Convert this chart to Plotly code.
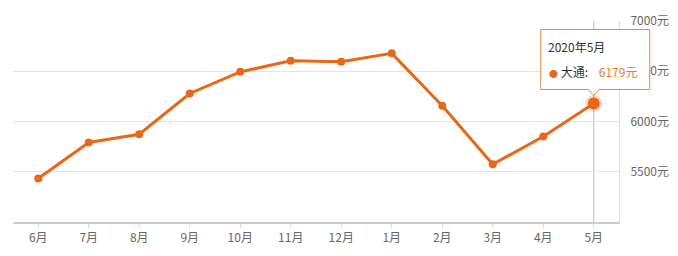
import plotly.graph_objects as go

months = ["6月", "7月", "8月", "9月", "10月", "11月", "12月", "1月", "2月", "3月", "4月", "5月"]
prices = [5432, 5791, 5873, 6279, 6494, 6604, 6594, 6678, 6156, 5574, 5850, 6179]
y_ticks = [5500, 6000, 6500, 7000]
y_range = [5000, 7000]
series_name = "大通"
tip_title = "2020年5月"

ORANGE = "#E8681A"
FONT = "Noto Sans CJK SC, Noto Sans, sans-serif"
idx = list(range(len(months)))
last = idx[-1]
x_range = [-0.5, len(months) - 0.5]

# anchor of the tooltip in paper fractions, derived from the axis ranges
px_anchor = (last - x_range[0]) / (x_range[1] - x_range[0])
py_anchor = (prices[-1] - y_range[0]) / (y_range[1] - y_range[0])

fig = go.Figure()
fig.add_trace(go.Scatter(
    x=idx, y=prices, mode="lines+markers",
    line=dict(color=ORANGE, width=3),
    marker=dict(size=8, color=ORANGE),
    hoverinfo="skip", showlegend=False,
))
fig.add_trace(go.Scatter(
    x=[last], y=[prices[-1]], mode="markers",
    marker=dict(size=12, color=ORANGE, line=dict(width=5, color="rgba(232,104,26,0.25)")),
    hoverinfo="skip", showlegend=False,
))

shapes = [
    dict(type="line", xref="x", yref="paper", x0=last, x1=last, y0=0, y1=1,
         line=dict(color="#b8b8b8", width=1), layer="below"),
    dict(type="rect", xref="paper", yref="paper", xsizemode="pixel", ysizemode="pixel",
         xanchor=px_anchor, yanchor=py_anchor, x0=-53, x1=56, y0=14, y1=74,
         fillcolor="white", line=dict(color="#E8883F", width=1), layer="above"),
    dict(type="path", xref="paper", yref="paper", xsizemode="pixel", ysizemode="pixel",
         xanchor=px_anchor, yanchor=py_anchor, path="M -6 14.6 L 0 8 L 6 14.6",
         fillcolor="white", line=dict(color="#E8883F", width=1), layer="above"),
]

annotations = [
    dict(xref="paper", yref="paper", x=px_anchor, y=py_anchor, xshift=-48, yshift=57,
         xanchor="left", yanchor="middle", showarrow=False,
         text=tip_title, font=dict(family=FONT, size=12, color="#333333")),
    dict(xref="paper", yref="paper", x=px_anchor, y=py_anchor, xshift=-47, yshift=32,
         xanchor="left", yanchor="middle", showarrow=False,
         text=("<span style='color:%s;font-size:9px'>●</span> %s:&nbsp;&nbsp;&nbsp;&nbsp;"
               "<span style='color:#E07A35'>%d元</span>") % (ORANGE, series_name, prices[-1]),
         font=dict(family=FONT, size=12, color="#333333")),
]

fig.update_layout(
    width=678, height=256,
    margin=dict(l=13, r=59, t=21, b=34),
    paper_bgcolor="white", plot_bgcolor="white",
    font=dict(family=FONT, size=12, color="#666666"),
    shapes=shapes, annotations=annotations,
    xaxis=dict(
        tickmode="array", tickvals=idx, ticktext=months,
        range=x_range, automargin=False,
        showgrid=False, zeroline=False,
        showline=True, linecolor="#cccccc", linewidth=2,
        ticks="outside", ticklen=4, tickcolor="#dddddd",
        tickfont=dict(size=12, color="#666666"),
    ),
    yaxis=dict(
        side="right", range=y_range, automargin=False,
        tickmode="array", tickvals=y_ticks, ticktext=["%d元" % v for v in y_ticks],
        showgrid=True, gridcolor="#e3e3e3", gridwidth=1,
        zeroline=False, showline=True, linecolor="#dddddd", linewidth=1,
        ticks="", ticklabelstandoff=8,
        tickfont=dict(size=12, color="#666666"),
    ),
)

fig.write_html("out.html")
